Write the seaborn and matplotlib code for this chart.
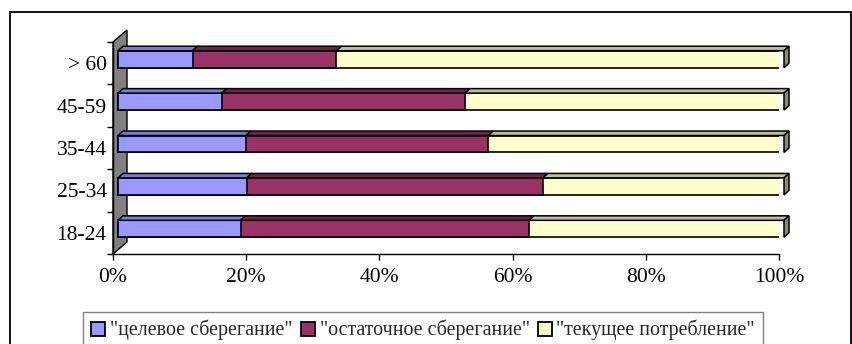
import matplotlib
matplotlib.use("Agg")
import matplotlib.pyplot as plt
from matplotlib.patches import Polygon, Rectangle, Patch
from matplotlib.ticker import FixedLocator
import seaborn as sns
import pandas as pd

# Savings behaviour by age group, shares in percent
age_groups = ["> 60", "45-59", "35-44", "25-34", "18-24"]
target_saving = [11.2, 15.6, 19.2, 19.3, 18.4]
residual_saving = [21.6, 36.5, 36.4, 44.5, 43.3]
current_consumption = [67.2, 47.9, 44.4, 36.2, 38.3]
series_names = ['"целевое сберегание"', '"остаточное сберегание"', '"текущее потребление"']
x_ticks = [0, 20, 40, 60, 80, 100]
x_tick_labels = ["0%", "20%", "40%", "60%", "80%", "100%"]

front_colors = ["#9999FF", "#993366", "#FFFFCC"]
top_colors = ["#7b7bd6", "#6e2449", "#bdbd99"]
side_color = "#8c8c6c"

sns.set_style("white")
plt.rcParams["font.family"] = ["Liberation Serif", "DejaVu Serif"]
FS_TICK = 15.5
FS_LEG = 14.4

W, H = 852, 344
fig = plt.figure(figsize=(W / 100, H / 100), dpi=100)
ax = fig.add_axes([113 / W, 1 - 254 / H, (779 - 113) / W, (254 - 42) / H])

df = pd.DataFrame({
    "group": age_groups,
    "s1": target_saving,
    "s2": residual_saving,
    "s3": current_consumption,
})
df["c1"] = df["s1"]
df["c2"] = df["c1"] + df["s2"]
df["c3"] = df["c2"] + df["s3"]

bar_h = 0.4
# stacked bars: draw cumulative totals from the widest down
for col, colr in zip(["c3", "c2", "c1"], front_colors[::-1]):
    sns.barplot(data=df, x=col, y="group", order=age_groups, orient="h",
                color=colr, saturation=1, width=bar_h, edgecolor="black",
                linewidth=1.2, ax=ax, zorder=3)

ax.set_xlim(0, 100)
ax.set_ylim(4.5, -0.5)

# pixel scales of the axes for the oblique depth effect
px_x = (779 - 113) / 100.0
px_y = (254 - 42) / 5.0
ox, oy = 5 / px_x, 4 / px_y       # bars sit a little behind the front plane
dx, dy = 5 / px_x, 4.5 / px_y     # bar depth
wx, wy = 14 / px_x, 12 / px_y     # wall depth

for p in ax.patches:
    p.set_x(p.get_x() + ox)
    p.set_y(p.get_y() - oy)

# top and end faces of each stacked bar
for i in range(len(age_groups)):
    yt = i - bar_h / 2 - oy
    yb = i + bar_h / 2 - oy
    bounds = [0, df["c1"][i], df["c2"][i], df["c3"][i]]
    for k in range(3):
        a, b = bounds[k] + ox, bounds[k + 1] + ox
        ax.add_patch(Polygon([(a, yt), (b, yt), (b + dx, yt - dy), (a + dx, yt - dy)],
                             closed=True, facecolor=top_colors[k], edgecolor="black",
                             linewidth=1.1, zorder=4, clip_on=False))
    e = bounds[3] + ox
    ax.add_patch(Polygon([(e, yt), (e + dx, yt - dy), (e + dx, yb - dy), (e, yb)],
                         closed=True, facecolor=side_color, edgecolor="black",
                         linewidth=1.1, zorder=4, clip_on=False))

# grey side wall
ax.add_patch(Polygon([(0, 4.5), (0, -0.5), (wx, -0.5 - wy), (wx, 4.5 - wy)],
                     closed=True, facecolor="#808080", edgecolor="black",
                     linewidth=1.0, zorder=1, clip_on=False))

ax.set_xlabel("")
ax.set_ylabel("")
ax.set_xticks(x_ticks)
ax.set_xticklabels(x_tick_labels, fontsize=FS_TICK)
ax.set_yticks(range(len(age_groups)))
ax.set_yticklabels(age_groups, fontsize=FS_TICK)
ax.yaxis.set_minor_locator(FixedLocator([i - 0.5 for i in range(len(age_groups) + 1)]))
ax.tick_params(axis="x", which="major", direction="out", length=4, width=1,
               color="black", bottom=True, pad=6, labelcolor="black")
ax.tick_params(axis="y", which="major", length=0, pad=4.5, labelcolor="black")
ax.tick_params(axis="y", which="minor", direction="out", length=4, width=1,
               color="black", left=True)
for s in ["top", "right"]:
    ax.spines[s].set_visible(False)
for s in ["left", "bottom"]:
    ax.spines[s].set_visible(True)
    ax.spines[s].set_color("black")
    ax.spines[s].set_linewidth(1.0)
ax.spines["left"].set_zorder(2)
ax.set_facecolor("none")
ax.grid(False)

handles = [Patch(facecolor=c, edgecolor="black", linewidth=1.3) for c in front_colors]
leg = fig.legend(handles, series_names, loc="upper left",
                 bbox_to_anchor=(83 / W, 1 - 312 / H), ncol=3, fontsize=FS_LEG,
                 frameon=True, fancybox=False, edgecolor="#808080", framealpha=1,
                 handlelength=0.7, handleheight=0.7, handletextpad=0.25,
                 columnspacing=0.4, borderpad=0.4, borderaxespad=0)
leg.get_frame().set_linewidth(1.0)

# outer chart border
fig.add_artist(Rectangle((10 / W, -0.2), (850.5 - 10) / W, 1.2 - 12 / H,
                         transform=fig.transFigure, fill=False,
                         edgecolor="black", linewidth=1.3))

fig.savefig("out.png", dpi=100)
